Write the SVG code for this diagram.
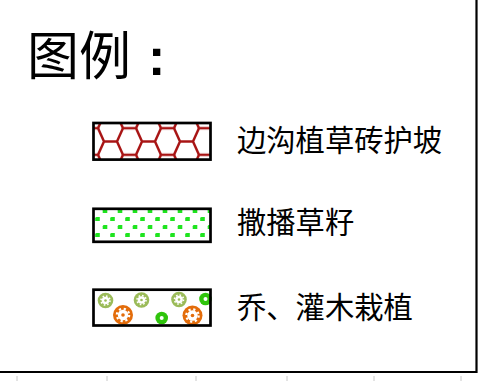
<svg xmlns="http://www.w3.org/2000/svg" xmlns:xlink="http://www.w3.org/1999/xlink" width="478" height="383" viewBox="0 0 478 383">
<style>
.box{fill:none;stroke:#000;stroke-width:2.7}
.lbl{font-family:"Noto Sans CJK SC","Noto Sans CJK JP",sans-serif;fill:#000}
.olive{fill:#9bbb59}
.orange{fill:#e36c0a}
.green{fill:#2fc40c}
.teeth{fill:none;stroke:#fff}
</style>
<defs>
<path id="hx" d="M0,0H13L19,13.3H32L38,0M19,13.3L13,26.6M32,13.3L38,26.6"/>
<pattern id="hex" patternUnits="userSpaceOnUse" x="85" y="128.2" width="38" height="26.6">
<g fill="none" stroke="#a81414" stroke-width="2.5" stroke-linejoin="round">
<use xlink:href="#hx" x="-38" y="-26.6"/><use xlink:href="#hx" x="0" y="-26.6"/><use xlink:href="#hx" x="38" y="-26.6"/>
<use xlink:href="#hx" x="-38" y="0"/><use xlink:href="#hx" x="0" y="0"/><use xlink:href="#hx" x="38" y="0"/>
<use xlink:href="#hx" x="-38" y="26.6"/><use xlink:href="#hx" x="0" y="26.6"/><use xlink:href="#hx" x="38" y="26.6"/>
</g>
</pattern>
<path id="dot" d="M-2.3,-0.8Q-2.3,-2 -0.8,-2H2.3V2H-2.3Z"/>
<pattern id="seed" patternUnits="userSpaceOnUse" x="94" y="207" width="15" height="16">
<g fill="#1fe41f"><use xlink:href="#dot" x="11" y="4"/><use xlink:href="#dot" x="3.5" y="12"/></g>
</pattern>
<g id="gs">
<circle r="7.8"/>
<circle r="3.8" fill="#fff"/>
<circle r="4.5" class="teeth" stroke-width="1.6" stroke-dasharray="1.6 1.93"/>
<circle r="1.3"/>
</g>
<g id="gl">
<circle r="10"/>
<circle r="5.2" fill="#fff"/>
<circle r="6.2" class="teeth" stroke-width="2.2" stroke-dasharray="2.2 2.67"/>
<circle r="1.8"/>
</g>
<g id="gd">
<circle r="6.3"/>
<circle r="2" fill="#fff"/>
</g>
</defs>

<g id="frame" fill="none" stroke="#000" stroke-width="2.2">
<path d="M476.5,0V372H0"/>
</g>
<g id="ticks" stroke="#c8c8c8" stroke-width="1">
<path d="M17,376v5M107,376v5M196,376v5M287,376v5M374,376v5M461,376v5"/>
</g>

<g id="title">
<text class="lbl" x="27" y="75" font-size="52">图例<tspan font-family="'Liberation Sans',sans-serif" font-weight="bold" dx="17">:</tspan></text>
</g>

<g id="legend-hex">
<rect x="93.5" y="123" width="117" height="36.6" fill="url(#hex)"/>
<rect class="box" x="93.5" y="123" width="117" height="36.6"/>
<text class="lbl" x="237" y="151" font-size="29.3">边沟植草砖护坡</text>
</g>

<g id="legend-seed">
<rect x="93.5" y="208.8" width="117" height="33" fill="url(#seed)"/>
<rect class="box" x="93.5" y="208.8" width="117" height="33"/>
<text class="lbl" x="237" y="233" font-size="29.3">撒播草籽</text>
</g>

<g id="legend-tree">
<use xlink:href="#gs" class="olive" x="105.5" y="300.5"/>
<use xlink:href="#gs" class="olive" x="141.5" y="300"/>
<use xlink:href="#gs" class="olive" x="179" y="299.5"/>
<use xlink:href="#gl" class="orange" x="123" y="315"/>
<use xlink:href="#gl" class="orange" x="192.5" y="315.5"/>
<use xlink:href="#gd" class="green" x="161.7" y="318"/>
<use xlink:href="#gd" class="green" x="205.5" y="299"/>
<rect class="box" x="93.5" y="289.7" width="117" height="35.8"/>
<text class="lbl" x="237" y="317.5" font-size="29.3">乔、灌木栽植</text>
</g>
</svg>
